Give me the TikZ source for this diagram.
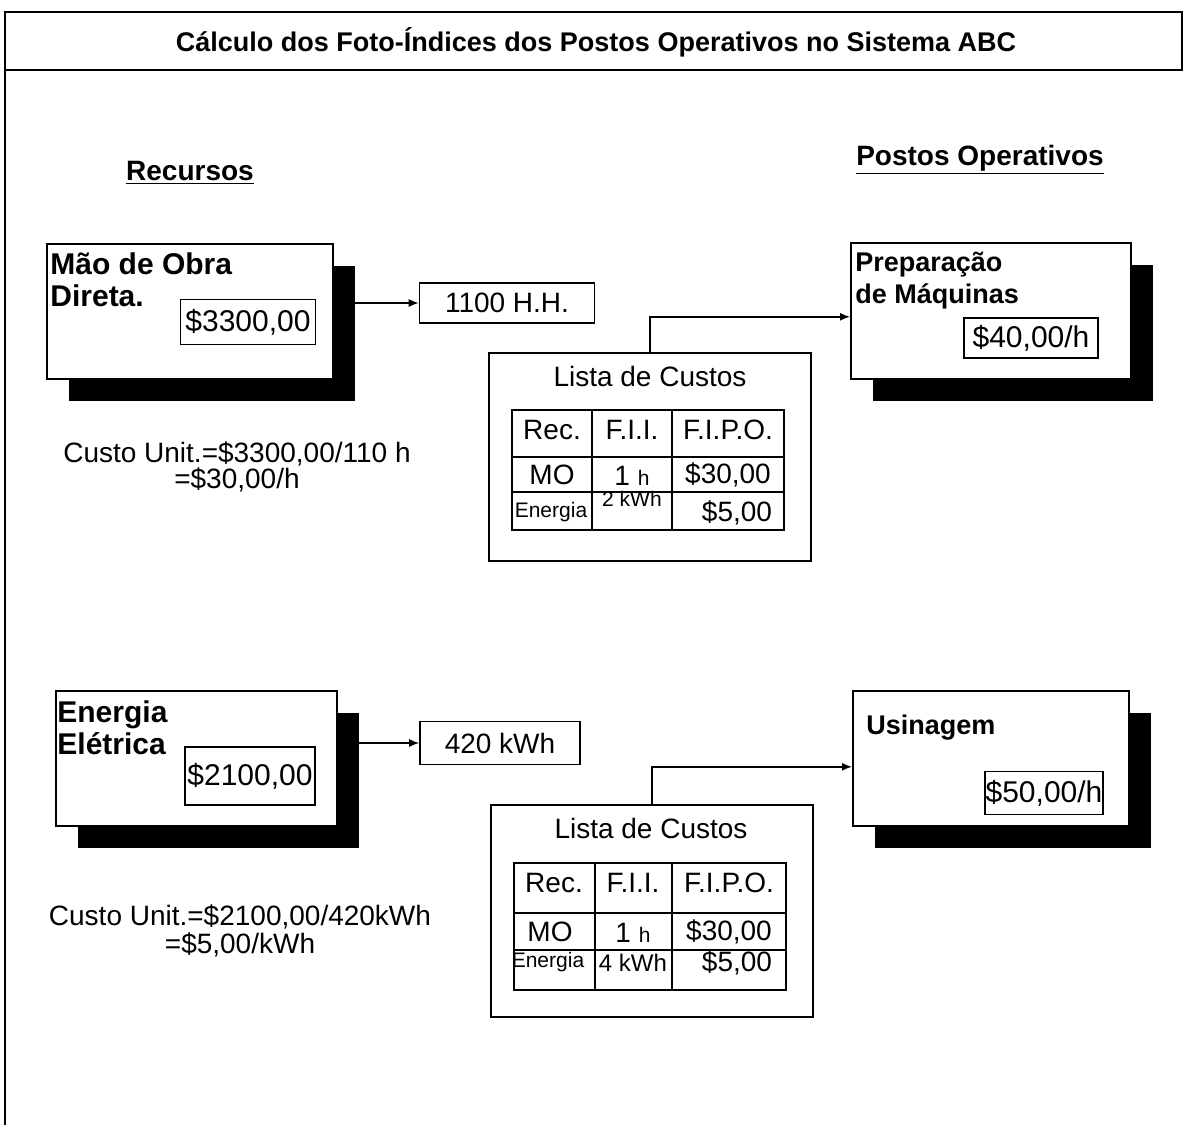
\documentclass[tikz,border=0pt]{standalone}
\usepackage{fontspec}
\setmainfont{Liberation Sans}
\usetikzlibrary{arrows.meta,positioning,shadows}

\begin{document}
\begin{tikzpicture}[x=0.5pt, y=-0.5pt,
  rbox/.style={draw, fill=white, line width=0.8pt, anchor=north west, inner sep=0pt,
    drop shadow={shadow xshift=11pt, shadow yshift=-11pt, fill=black, opacity=1}},
  vbox/.style={draw, line width=0.8pt, font=\fontsize{15}{17}\selectfont, inner sep=0pt},
  qbox/.style={draw, line width=0.8pt, font=\fontsize{14}{16}\selectfont, inner sep=0pt},
  lbox/.style={draw, line width=0.8pt, anchor=north west, inner sep=0pt},
  blab/.style={font=\bfseries\fontsize{15}{16}\selectfont, align=left, anchor=north west, inner sep=0pt},
  head/.style={font=\bfseries\fontsize{14}{16}\selectfont},
  txt/.style={font=\fontsize{14}{13}\selectfont, align=center},
  cell/.style={font=\fontsize{14}{16}\selectfont, inner sep=0pt},
  small/.style={font=\fontsize{10.5}{12}\selectfont, inner sep=0pt},
  arrow/.style={-{Latex[length=5pt,width=4pt]}, line width=0.7pt}
]
\useasboundingbox (0,0) rectangle (1184,1125);

% frame and title
\draw[line width=1pt] (5,1125) -- (5,12) -- (1182,12) -- (1182,70) -- (5,70);
\node[font=\bfseries\fontsize{13.5}{15}\selectfont] (title) at (596,42)
  {Cálculo dos Foto-Índices dos Postos Operativos no Sistema ABC};

\node[head] (recursos) at (190,173) {\underline{Recursos}};
\node[head] (postos) at (980,160) {\underline{Postos Operativos}};

% mao de obra
\node[rbox, minimum width=143pt, minimum height=67.5pt] (mo) at (46,243) {};
\node[blab] (molab) at (50,252) {Mão de Obra\\Direta.};
\node[vbox, minimum width=67.5pt, minimum height=22.5pt] (moval) at (248,322) {\$3300,00};
\node[qbox, minimum width=87.5pt, minimum height=20pt] (hh) at (507,303) {1100 H.H.};
\draw[arrow] (mo.east |- hh.west) -- (hh.west);
\node[txt] (mocusto) at (237,467) {Custo Unit.=\$3300,00/110 h\\=\$30,00/h};

% lista de custos 1
\node[lbox, minimum width=161pt, minimum height=104pt] (lc1) at (488,352) {};
\node[cell] (lc1tit) at (650,376) {Lista de Custos};
\draw[line width=0.7pt] (512,410) rectangle (784,530);
\draw[line width=0.7pt] (512,457) -- (784,457) (512,492) -- (784,492);
\draw[line width=0.7pt] (592,410) -- (592,530) (672,410) -- (672,530);
\node[cell] (a1) at (552,430) {Rec.};
\node[cell] (b1) at (632,430) {F.I.I.};
\node[cell] (c1) at (728,430) {F.I.P.O.};
\node[cell] (a2) at (552,475) {MO};
\node[cell] (b2) at (632,476) {1 {\fontsize{10.5}{12}\selectfont h}};
\node[cell] (c2) at (728,475) {\$30,00};
\node[small] (a3) at (551,512) {Energia};
\node[small] (b3) at (632,499) {2 kWh};
\node[cell] (c3) at (737,513) {\$5,00};

% preparacao de maquinas
\node[rbox, minimum width=140pt, minimum height=68pt] (prep) at (850,242) {};
\node[blab, font=\bfseries\fontsize{13.5}{16}\selectfont] (preplab) at (855,252) {Preparação\\de Máquinas};
\node[vbox, minimum width=67pt, minimum height=20pt] (prepval) at (1031,338) {\$40,00/h};
\draw[arrow] (lc1.north) |- ([yshift=-3pt]prep.west);

% energia eletrica
\node[rbox, minimum width=140.5pt, minimum height=67.5pt] (en) at (55,690) {};
\node[blab] (enlab) at (57,700) {Energia\\Elétrica};
\node[vbox, minimum width=65pt, minimum height=29pt] (enval) at (250,776) {\$2100,00};
\node[qbox, minimum width=80pt, minimum height=21.5pt] (kwh) at (500,743) {420 kWh};
\draw[arrow] (en.east |- kwh.west) -- (kwh.west);
\node[txt, font=\fontsize{14}{14}\selectfont] (encusto) at (240,931) {Custo Unit.=\$2100,00/420kWh\\=\$5,00/kWh};

% lista de custos 2
\node[lbox, minimum width=161pt, minimum height=106pt] (lc2) at (490,804) {};
\node[cell] (lc2tit) at (651,828) {Lista de Custos};
\draw[line width=0.7pt] (514,863) rectangle (786,990);
\draw[line width=0.7pt] (514,913) -- (786,913) (514,950) -- (786,950);
\draw[line width=0.7pt] (595,863) -- (595,990) (672,863) -- (672,990);
\node[cell] (d1) at (554,883) {Rec.};
\node[cell] (e1) at (633,883) {F.I.I.};
\node[cell] (f1) at (729,883) {F.I.P.O.};
\node[cell] (d2) at (550,932) {MO};
\node[cell] (e2) at (633,933) {1 {\fontsize{10.5}{12}\selectfont h}};
\node[cell] (f2) at (729,932) {\$30,00};
\node[small] (d3) at (548,962) {Energia};
\node[small, font=\fontsize{12}{13}\selectfont] (e3) at (633,963) {4 kWh};
\node[cell] (f3) at (737,963) {\$5,00};

% usinagem
\node[rbox, minimum width=138pt, minimum height=67.5pt] (usin) at (852,690) {};
\node[blab, font=\bfseries\fontsize{13.5}{16}\selectfont, anchor=west] (usinlab) at (866,728) {Usinagem};
\node[vbox, minimum width=59pt, minimum height=21.5pt] (usinval) at (1044,793) {\$50,00/h};
\draw[arrow] (lc2.north) |- ([yshift=-4.25pt]usin.west);
\end{tikzpicture}
\end{document}
